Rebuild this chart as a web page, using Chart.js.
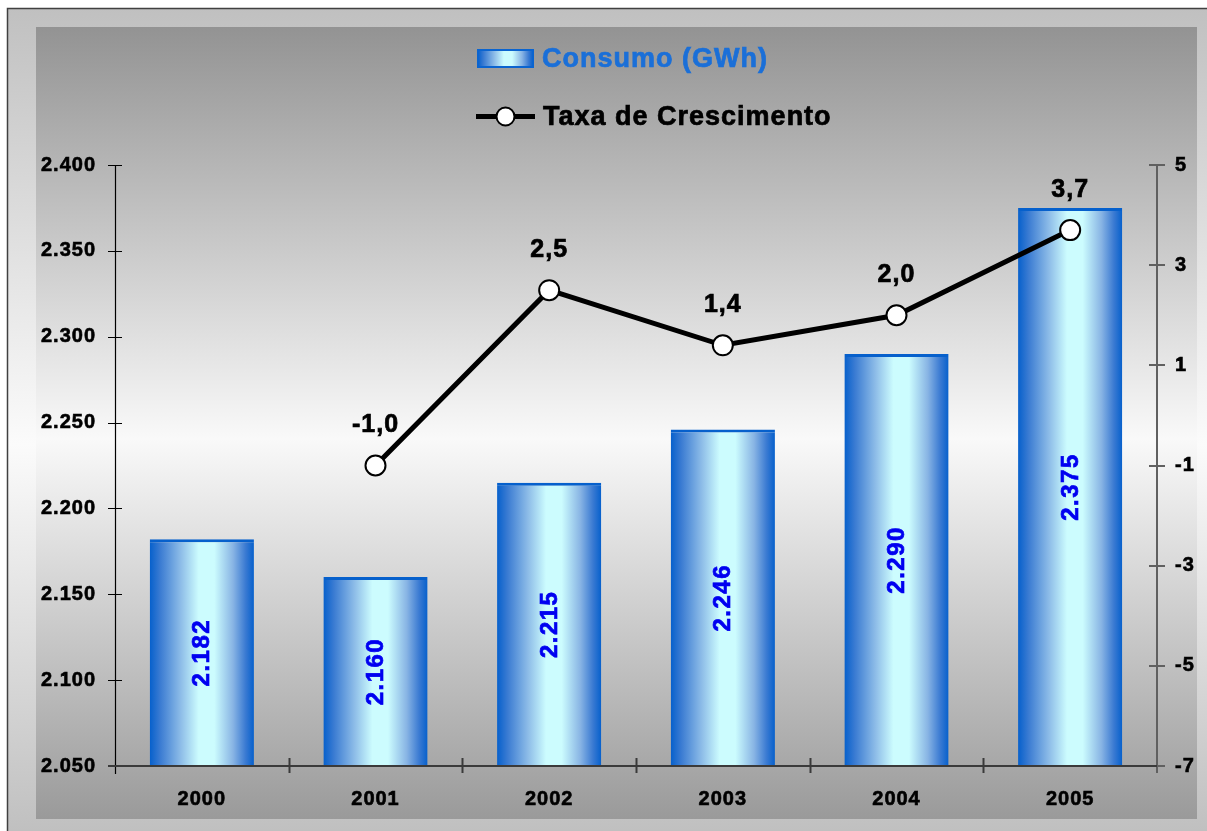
<!DOCTYPE html>
<html>
<head>
<meta charset="utf-8">
<script src="https://cdn.jsdelivr.net/npm/chart.js@4"></script>
<style>
  html, body { margin: 0; padding: 0; background: #fff; }
  #wrap { width: 1207px; height: 831px; }
</style>
</head>
<body>
<div id="wrap"><canvas id="myChart" width="1207" height="831"></canvas></div>
<script>
const anos = ['2000', '2001', '2002', '2003', '2004', '2005'];
const consumo = [2182, 2160, 2215, 2246, 2290, 2375];
const taxa = [null, -1.0, 2.5, 1.4, 2.0, 3.7];
const legendaConsumo = 'Consumo (GWh)';
const legendaTaxa = 'Taxa de Crescimento';

const FONT = '"Liberation Sans", Arial, sans-serif';

function milhar(v) {
  return String(v).replace(/\B(?=(\d{3})+(?!\d))/g, '.');
}

function gradBarra(ctx, x0, x1) {
  const g = ctx.createLinearGradient(x0, 0, x1, 0);
  g.addColorStop(0, '#0660cc');
  g.addColorStop(0.1, '#3a7bd2');
  g.addColorStop(0.3, '#8ebde8');
  g.addColorStop(0.47, '#ccfcfe');
  g.addColorStop(0.62, '#ccfcfe');
  g.addColorStop(0.8, '#88b4e4');
  g.addColorStop(0.92, '#3a7ad2');
  g.addColorStop(1, '#0660cc');
  return g;
}

function corBarra(c) {
  const chart = c.chart;
  const x = chart.scales.x;
  if (!x || !chart.chartArea) return '#5a9ae0';
  const cx = x.getPixelForValue(c.dataIndex);
  const w = x.width / anos.length * 0.6;
  return gradBarra(chart.ctx, cx - w / 2, cx + w / 2);
}

function texto(ctx, s, px, py) {
  ctx.strokeStyle = ctx.fillStyle;
  ctx.lineWidth = 0.7;
  ctx.strokeText(s, px, py);
  ctx.fillText(s, px, py);
}

const fundo = {
  id: 'fundo',
  beforeDraw(chart) {
    const ctx = chart.ctx;
    ctx.save();
    ctx.fillStyle = '#ffffff';
    ctx.fillRect(0, 0, chart.width, chart.height);
    // moldura
    let g = ctx.createLinearGradient(0, 8, 0, 831);
    g.addColorStop(0, '#c0c0c0');
    g.addColorStop(0.53, '#fbfbfb');
    g.addColorStop(1, '#c0c0c0');
    ctx.fillStyle = g;
    ctx.fillRect(8, 8, 1199, 823);
    ctx.strokeStyle = '#404040';
    ctx.lineWidth = 1.5;
    ctx.strokeRect(7.5, 8.5, 1205, 825);
    // area interna
    g = ctx.createLinearGradient(0, 27, 0, 819);
    g.addColorStop(0, '#939393');
    g.addColorStop(0.52, '#f9f9f9');
    g.addColorStop(1, '#9a9a9a');
    ctx.fillStyle = g;
    ctx.fillRect(36, 27, 1161, 792);
    ctx.restore();
    ctx.letterSpacing = '1px';
  },
  afterDatasetsDraw(chart) {
    const ctx = chart.ctx;
    const { x, y, y1 } = chart.scales;
    const area = chart.chartArea;
    ctx.save();
    // eixo esquerdo
    ctx.strokeStyle = '#000';
    ctx.lineWidth = 1.2;
    ctx.beginPath();
    ctx.moveTo(area.left + 0.5, area.top);
    ctx.lineTo(area.left + 0.5, area.bottom + 8);
    y.ticks.forEach(t => {
      const py = Math.round(y.getPixelForValue(t.value)) + 0.5;
      ctx.moveTo(area.left - 7, py);
      ctx.lineTo(area.left + 7, py);
    });
    ctx.stroke();
    // eixo direito
    ctx.strokeStyle = '#606060';
    ctx.lineWidth = 2;
    ctx.beginPath();
    ctx.moveTo(area.right, area.top);
    ctx.lineTo(area.right, area.bottom + 7);
    y1.ticks.forEach(t => {
      const py = Math.round(y1.getPixelForValue(t.value));
      ctx.moveTo(area.right - 8, py);
      ctx.lineTo(area.right + 8, py);
    });
    ctx.stroke();
    // eixo x
    ctx.strokeStyle = '#3a3a3a';
    ctx.lineWidth = 2;
    ctx.beginPath();
    ctx.moveTo(area.left - 7, area.bottom);
    ctx.lineTo(area.right, area.bottom);
    const w = x.width / anos.length;
    for (let i = 1; i < anos.length; i++) {
      const px = Math.round(x.left + i * w) + 0.5;
      ctx.moveTo(px, area.bottom - 8);
      ctx.lineTo(px, area.bottom + 7);
    }
    ctx.stroke();
    ctx.restore();
  },
  afterDraw(chart) {
    const ctx = chart.ctx;
    const { x, y, y1 } = chart.scales;
    ctx.save();
    ctx.textBaseline = 'middle';
    ctx.textAlign = 'center';
    // rotulos das barras
    ctx.letterSpacing = '1.5px';
    ctx.font = 'bold 24px ' + FONT;
    ctx.fillStyle = '#0000f0';
    consumo.forEach((v, i) => {
      const px = x.getPixelForValue(i);
      const top = y.getPixelForValue(v);
      const base = y.getPixelForValue(y.min);
      ctx.save();
      ctx.translate(px, (top + base) / 2);
      ctx.rotate(-Math.PI / 2);
      texto(ctx, milhar(v), 0, 1);
      ctx.restore();
    });
    // rotulos da linha
    ctx.letterSpacing = '1px';
    ctx.font = 'bold 25px ' + FONT;
    ctx.fillStyle = '#000';
    taxa.forEach((v, i) => {
      if (v === null) return;
      const px = x.getPixelForValue(i);
      const py = y1.getPixelForValue(v);
      texto(ctx, v.toFixed(1).replace('.', ','), px, py - 40);
    });
    // legenda
    ctx.textAlign = 'left';
    ctx.font = 'bold 27px ' + FONT;
    ctx.fillStyle = gradBarra(ctx, 478, 533);
    ctx.fillRect(478, 50, 55, 17);
    ctx.strokeStyle = '#0a64d0';
    ctx.lineWidth = 2;
    ctx.strokeRect(478, 50, 55, 17);
    ctx.fillStyle = '#1a6fd8';
    texto(ctx, legendaConsumo, 542, 60);
    ctx.strokeStyle = '#000';
    ctx.lineWidth = 5;
    ctx.beginPath();
    ctx.moveTo(476, 116.5);
    ctx.lineTo(535, 116.5);
    ctx.stroke();
    ctx.beginPath();
    ctx.arc(505.5, 116.5, 9, 0, Math.PI * 2);
    ctx.fillStyle = '#fff';
    ctx.fill();
    ctx.lineWidth = 2;
    ctx.stroke();
    ctx.fillStyle = '#000';
    texto(ctx, legendaTaxa, 543, 118);
    ctx.restore();
  }
};

const tickFont = { family: FONT, size: 20, weight: 'bold' };
const tickBase = { color: '#000', font: tickFont, textStrokeColor: '#000', textStrokeWidth: 0.6 };

new Chart('myChart', {
  data: {
    labels: anos,
    datasets: [
      {
        type: 'line',
        label: legendaTaxa,
        data: taxa,
        yAxisID: 'y1',
        borderColor: '#000',
        borderWidth: 5,
        pointRadius: 10,
        pointBackgroundColor: '#fff',
        pointBorderColor: '#000',
        pointBorderWidth: 2,
        tension: 0
      },
      {
        type: 'bar',
        label: legendaConsumo,
        data: consumo,
        yAxisID: 'y',
        backgroundColor: corBarra,
        borderColor: '#0660cc',
        borderWidth: { top: 3, left: 0, right: 0, bottom: 0 },
        borderSkipped: 'bottom',
        categoryPercentage: 1,
        barPercentage: 0.6
      }
    ]
  },
  options: {
    responsive: false,
    animation: false,
    layout: { padding: { top: 165, left: 0, right: 0, bottom: 0 } },
    plugins: {
      legend: { display: false },
      tooltip: { enabled: false }
    },
    scales: {
      x: {
        offset: true,
        grid: { display: false, drawTicks: false, tickLength: 0 },
        border: { display: false },
        ticks: { ...tickBase, padding: 21, maxRotation: 0 },
        afterFit(s) { s.height = 65; }
      },
      y: {
        position: 'left',
        min: 2050,
        max: 2400,
        grid: { display: false, drawTicks: false, tickLength: 0 },
        border: { display: false },
        ticks: { ...tickBase, stepSize: 50, padding: 19, callback: v => milhar(v) },
        afterFit(s) { s.width = 115; }
      },
      y1: {
        position: 'right',
        min: -7,
        max: 5,
        grid: { display: false, drawTicks: false, tickLength: 0 },
        border: { display: false },
        ticks: { ...tickBase, stepSize: 2, padding: 18 },
        afterFit(s) { s.width = 50; }
      }
    }
  },
  plugins: [fundo]
});
</script>
</body>
</html>
